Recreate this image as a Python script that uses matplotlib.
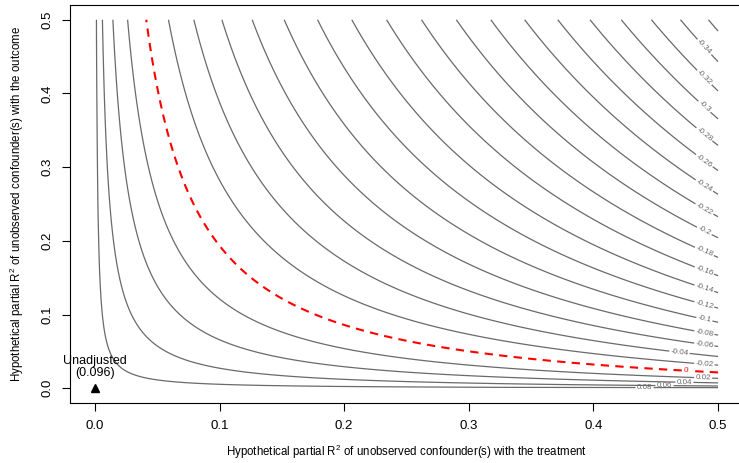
import numpy as np
import matplotlib.pyplot as plt

plt.rcParams['font.family'] = ['Liberation Sans', 'DejaVu Sans']
plt.rcParams['mathtext.fontset'] = 'custom'
plt.rcParams['mathtext.rm'] = 'Liberation Sans'

# model values
estimate = 0.096
se_sqrt_df = 0.655   # se * sqrt(dof)
lim = 0.5

unlabeled_levels = [-0.36]
label_levels = [-0.34, -0.32, -0.3, -0.28, -0.26, -0.24, -0.22, -0.2, -0.18,
                -0.16, -0.14, -0.12, -0.1, -0.08, -0.06, -0.04, -0.02, 0.02,
                0.04, 0.06, 0.08]
label_x = [0.489, 0.489, 0.489, 0.489, 0.489, 0.489, 0.489, 0.489, 0.489,
           0.489, 0.489, 0.489, 0.489, 0.489, 0.489, 0.469, 0.489, 0.488,
           0.473, 0.457, 0.441]
zero_label_x = 0.474


def adjusted(r2dz, r2yz):
    bias = se_sqrt_df * np.sqrt(r2yz * r2dz / (1 - r2dz))
    return estimate - bias


def r2yz_at(level, r2dz):
    return ((estimate - level) / se_sqrt_df) ** 2 * (1 - r2dz) / r2dz


grid = np.linspace(0, lim, 401)
X, Y = np.meshgrid(grid, grid)
Z = adjusted(X, Y)

fig = plt.figure(figsize=(7.39, 4.63), dpi=100)
ax = fig.add_axes([70 / 739, 1 - 403 / 463, 673 / 739, 398 / 463])

line_col = '#6a6a6a'
ax.contour(X, Y, Z, levels=unlabeled_levels, colors=line_col, linewidths=0.9,
           negative_linestyles='solid')
cs = ax.contour(X, Y, Z, levels=label_levels, colors=line_col, linewidths=0.9,
                negative_linestyles='solid')
lab_pos = [(x, r2yz_at(l, x)) for l, x in zip(label_levels, label_x)]
ax.clabel(cs, fmt='%g', fontsize=5.8, colors='#666666',
          inline=True, inline_spacing=2, manual=lab_pos)

cz = ax.contour(X, Y, Z, levels=[0], colors='red', linewidths=1.5,
                linestyles=[(0, (4, 3))])
ax.clabel(cz, fmt='%g', fontsize=5.8, colors='red', inline=True,
          inline_spacing=2, manual=[(zero_label_x, r2yz_at(0, zero_label_x))])

ax.plot([0], [0], marker='^', color='black', markersize=5.5, linestyle='none')
ax.text(0, 0.012, 'Unadjusted\n(0.096)', ha='center', va='bottom',
        fontsize=9, linespacing=1.05)

ax.set_xlim(-0.02, 0.52)
ax.set_ylim(-0.02, 0.52)
ticks = [0.0, 0.1, 0.2, 0.3, 0.4, 0.5]
ax.set_xticks(ticks)
ax.set_yticks(ticks)
ax.set_xticklabels(['%.1f' % t for t in ticks])
ax.set_yticklabels(['%.1f' % t for t in ticks], rotation=90, va='center')
ax.tick_params(direction='out', length=6, width=0.8, labelsize=9.5, pad=6)
for s in ax.spines.values():
    s.set_linewidth(0.8)

ax.set_xlabel(r'Hypothetical partial R$^2$ of unobserved confounder(s) with the treatment',
              fontsize=8.3, labelpad=8)
ax.set_ylabel(r'Hypothetical partial R$^2$ of unobserved confounder(s) with the outcome',
              fontsize=8.3, labelpad=11)

fig.savefig('out.png', dpi=100)
